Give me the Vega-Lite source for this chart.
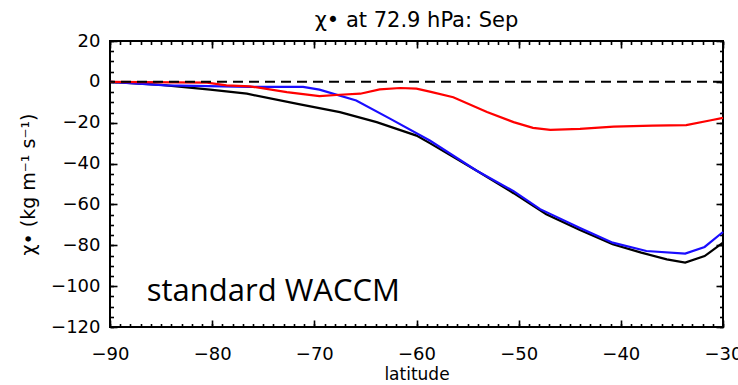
{
  "$schema": "https://vega.github.io/schema/vega-lite/v6.json",
  "width": 613,
  "height": 286,
  "autosize": {"type": "none"},
  "padding": {"left": 110, "top": 41, "right": 15, "bottom": 58},
  "background": "white",
  "title": {
    "text": "χ• at 72.9 hPa: Sep",
    "font": "DejaVu Sans",
    "fontSize": 21,
    "fontWeight": "normal",
    "color": "black",
    "anchor": "middle",
    "frame": "group",
    "offset": 1
  },
  "config": {
    "view": {"stroke": "black", "strokeWidth": 2},
    "axis": {
      "grid": false,
      "domain": false,
      "ticks": true,
      "tickColor": "black",
      "tickWidth": 1.6,
      "labelColor": "black",
      "titleColor": "black",
      "labelFont": "DejaVu Sans",
      "titleFont": "DejaVu Sans",
      "labelFontSize": 18,
      "titleFontWeight": "normal"
    }
  },
  "data": {
    "values": [
      {"series": "black", "lat": -90, "chi": 0},
      {"series": "black", "lat": -85, "chi": -1.5},
      {"series": "black", "lat": -80.2, "chi": -3.8},
      {"series": "black", "lat": -76.6, "chi": -5.8},
      {"series": "black", "lat": -71.4, "chi": -11},
      {"series": "black", "lat": -67.5, "chi": -14.8},
      {"series": "black", "lat": -63.9, "chi": -19.7},
      {"series": "black", "lat": -60, "chi": -26.3},
      {"series": "black", "lat": -58.7, "chi": -30},
      {"series": "black", "lat": -56.5, "chi": -36.5},
      {"series": "black", "lat": -54.1, "chi": -43.5},
      {"series": "black", "lat": -50.5, "chi": -54.5},
      {"series": "black", "lat": -47.3, "chi": -64.8},
      {"series": "black", "lat": -44, "chi": -72.5},
      {"series": "black", "lat": -40.8, "chi": -79.5},
      {"series": "black", "lat": -38, "chi": -83.6},
      {"series": "black", "lat": -35.5, "chi": -86.9},
      {"series": "black", "lat": -33.7, "chi": -88.5},
      {"series": "black", "lat": -31.8, "chi": -85.3},
      {"series": "black", "lat": -30, "chi": -78.7},
      {"series": "blue", "lat": -90, "chi": 0},
      {"series": "blue", "lat": -84.5, "chi": -1.7},
      {"series": "blue", "lat": -76.3, "chi": -2.5},
      {"series": "blue", "lat": -71.1, "chi": -2.5},
      {"series": "blue", "lat": -69.5, "chi": -3.8},
      {"series": "blue", "lat": -65.9, "chi": -9.1},
      {"series": "blue", "lat": -62.6, "chi": -18},
      {"series": "blue", "lat": -58.7, "chi": -28.7},
      {"series": "blue", "lat": -54.1, "chi": -43.5},
      {"series": "blue", "lat": -50.5, "chi": -53.5},
      {"series": "blue", "lat": -47.9, "chi": -62.3},
      {"series": "blue", "lat": -44, "chi": -71.5},
      {"series": "blue", "lat": -40.8, "chi": -78.7},
      {"series": "blue", "lat": -37.5, "chi": -82.8},
      {"series": "blue", "lat": -33.7, "chi": -84.1},
      {"series": "blue", "lat": -31.8, "chi": -80.8},
      {"series": "blue", "lat": -30, "chi": -73.5},
      {"series": "red", "lat": -90, "chi": 0},
      {"series": "red", "lat": -80.5, "chi": -0.4},
      {"series": "red", "lat": -78.6, "chi": -1.7},
      {"series": "red", "lat": -76.3, "chi": -2.2},
      {"series": "red", "lat": -72.7, "chi": -5},
      {"series": "red", "lat": -69.5, "chi": -7},
      {"series": "red", "lat": -67.5, "chi": -6.3},
      {"series": "red", "lat": -65.5, "chi": -5.8},
      {"series": "red", "lat": -63.6, "chi": -3.7},
      {"series": "red", "lat": -61.6, "chi": -3},
      {"series": "red", "lat": -60, "chi": -3.3},
      {"series": "red", "lat": -58.7, "chi": -4.8},
      {"series": "red", "lat": -56.4, "chi": -7.5},
      {"series": "red", "lat": -53.1, "chi": -14.8},
      {"series": "red", "lat": -50.5, "chi": -19.7},
      {"series": "red", "lat": -48.6, "chi": -22.5},
      {"series": "red", "lat": -46.9, "chi": -23.5},
      {"series": "red", "lat": -44, "chi": -23},
      {"series": "red", "lat": -40.7, "chi": -21.9},
      {"series": "red", "lat": -36.9, "chi": -21.4},
      {"series": "red", "lat": -33.6, "chi": -21.2},
      {"series": "red", "lat": -31.3, "chi": -18.9},
      {"series": "red", "lat": -30, "chi": -17.6}
    ]
  },
  "resolve": {"axis": {"x": "independent", "y": "independent"}},
  "layer": [
    {
      "mark": {"type": "line", "strokeWidth": 2.2},
      "encoding": {
        "x": {
          "field": "lat", "type": "quantitative",
          "scale": {"domain": [-90, -30], "nice": false, "zero": false},
          "axis": {
            "orient": "bottom",
            "values": [-90, -80, -70, -60, -50, -40, -30],
            "tickSize": -7,
            "labelPadding": 25,
            "title": "latitude",
            "titleFontSize": 17,
            "titlePadding": 3,
            "labelFlush": false
          }
        },
        "y": {
          "field": "chi", "type": "quantitative",
          "scale": {"domain": [-120, 20], "nice": false, "zero": false},
          "axis": {
            "orient": "left",
            "values": [-120, -100, -80, -60, -40, -20, 0, 20],
            "tickSize": -7,
            "labelPadding": 17,
            "title": "χ• (kg m⁻¹ s⁻¹)",
            "titleFontSize": 19,
            "titlePadding": 12
          }
        },
        "color": {
          "field": "series", "type": "nominal",
          "scale": {"domain": ["black", "blue", "red"], "range": ["black", "#1a0dff", "#ff0000"]},
          "legend": null
        }
      }
    },
    {
      "mark": {"type": "line", "opacity": 0},
      "encoding": {
        "x": {
          "field": "lat", "type": "quantitative",
          "axis": {
            "orient": "bottom",
            "values": [-90,-89,-88,-87,-86,-85,-84,-83,-82,-81,-80,-79,-78,-77,-76,-75,-74,-73,-72,-71,-70,-69,-68,-67,-66,-65,-64,-63,-62,-61,-60,-59,-58,-57,-56,-55,-54,-53,-52,-51,-50,-49,-48,-47,-46,-45,-44,-43,-42,-41,-40,-39,-38,-37,-36,-35,-34,-33,-32,-31,-30],
            "tickSize": -3.5,
            "labels": false,
            "title": null
          }
        },
        "y": {
          "field": "chi", "type": "quantitative",
          "axis": {
            "orient": "left",
            "values": [-120,-115,-110,-105,-100,-95,-90,-85,-80,-75,-70,-65,-60,-55,-50,-45,-40,-35,-30,-25,-20,-15,-10,-5,0,5,10,15,20],
            "tickSize": -3.5,
            "labels": false,
            "title": null
          }
        },
        "detail": {"field": "series"}
      }
    },
    {
      "mark": {"type": "line", "opacity": 0},
      "encoding": {
        "x": {
          "field": "lat", "type": "quantitative",
          "axis": {
            "orient": "top",
            "values": [-90, -80, -70, -60, -50, -40, -30],
            "tickSize": -7,
            "labels": false,
            "title": null
          }
        },
        "y": {
          "field": "chi", "type": "quantitative",
          "axis": {
            "orient": "right",
            "values": [-120, -100, -80, -60, -40, -20, 0, 20],
            "tickSize": -7,
            "labels": false,
            "title": null
          }
        },
        "detail": {"field": "series"}
      }
    },
    {
      "mark": {"type": "line", "opacity": 0},
      "encoding": {
        "x": {
          "field": "lat", "type": "quantitative",
          "axis": {
            "orient": "top",
            "values": [-90,-89,-88,-87,-86,-85,-84,-83,-82,-81,-80,-79,-78,-77,-76,-75,-74,-73,-72,-71,-70,-69,-68,-67,-66,-65,-64,-63,-62,-61,-60,-59,-58,-57,-56,-55,-54,-53,-52,-51,-50,-49,-48,-47,-46,-45,-44,-43,-42,-41,-40,-39,-38,-37,-36,-35,-34,-33,-32,-31,-30],
            "tickSize": -3.5,
            "labels": false,
            "title": null
          }
        },
        "y": {
          "field": "chi", "type": "quantitative",
          "axis": {
            "orient": "right",
            "values": [-120,-115,-110,-105,-100,-95,-90,-85,-80,-75,-70,-65,-60,-55,-50,-45,-40,-35,-30,-25,-20,-15,-10,-5,0,5,10,15,20],
            "tickSize": -3.5,
            "labels": false,
            "title": null
          }
        },
        "detail": {"field": "series"}
      }
    },
    {
      "data": {"values": [{}]},
      "mark": {"type": "rule", "color": "black", "strokeWidth": 2, "strokeDash": [10, 6]},
      "encoding": {
        "y": {"datum": 0, "type": "quantitative", "axis": null}
      }
    },
    {
      "data": {"values": [{"label": "standard WACCM"}]},
      "mark": {"type": "text", "font": "Open Sans", "fontSize": 31, "align": "left", "baseline": "alphabetic", "color": "black"},
      "encoding": {
        "x": {"datum": -86.4, "type": "quantitative", "axis": null},
        "y": {"datum": -107.4, "type": "quantitative", "axis": null},
        "text": {"field": "label"}
      }
    }
  ]
}
